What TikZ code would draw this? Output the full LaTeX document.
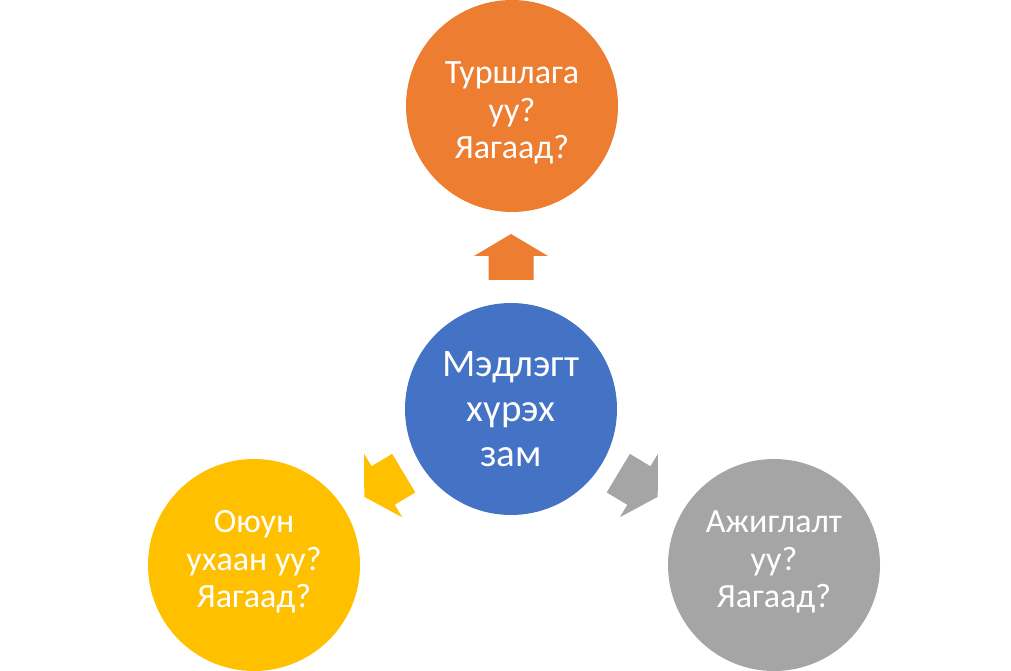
\documentclass[tikz,border=0pt]{standalone}
\usepackage{fontspec}
\setmainfont{Carlito}
\definecolor{oorange}{HTML}{ED7D31}
\definecolor{oblue}{HTML}{4472C4}
\definecolor{oyellow}{HTML}{FFC000}
\definecolor{ogray}{HTML}{A5A5A5}
\tikzset{
  bubble/.style={circle,minimum size=212pt,inner sep=0pt},
  btext/.style={inner sep=0pt,text=white,align=center,
    font=\fontsize{34}{37.5}\selectfont},
  htext/.style={btext,font=\fontsize{39}{45}\selectfont},
}
\newcommand{\blockarrow}[4]{% x y angle color
  \fill[#4,shift={(#1,#2)},rotate=#3]
    (-23,-22.5) -- (1,-22.5) -- (1,-37) -- (23,0) -- (1,37) -- (1,22.5) -- (-23,22.5) -- cycle;
}
\begin{document}
\begin{tikzpicture}[x=1pt,y=1pt]
\useasboundingbox (0,0) rectangle (1011,670);
\node[bubble,fill=oblue] (hubnode) at (511,261) {};
\node[bubble,fill=oorange] (top) at (512,564) {};
\node[bubble,fill=oyellow] (left) at (254,105) {};
\node[bubble,fill=ogray] (right) at (774,105) {};
\node[htext] (hubtext) at (hubnode.center) {Мэдлэгт\\хүрэх\\зам};
\node[btext] (toptext) at ([yshift=-7pt]top.center) {Туршлага\\уу?\\Яагаад?};
\node[btext] (lefttext) at ([yshift=3pt]left.center) {Оюун\\ухаан уу?\\Яагаад?};
\node[btext] (righttext) at ([yshift=3pt]right.center) {Ажиглалт\\уу?\\Яагаад?};
\blockarrow{511}{413}{90}{oorange}
\blockarrow{384}{185}{211}{oyellow}
\blockarrow{638}{185}{-31}{ogray}
\end{tikzpicture}
\end{document}
